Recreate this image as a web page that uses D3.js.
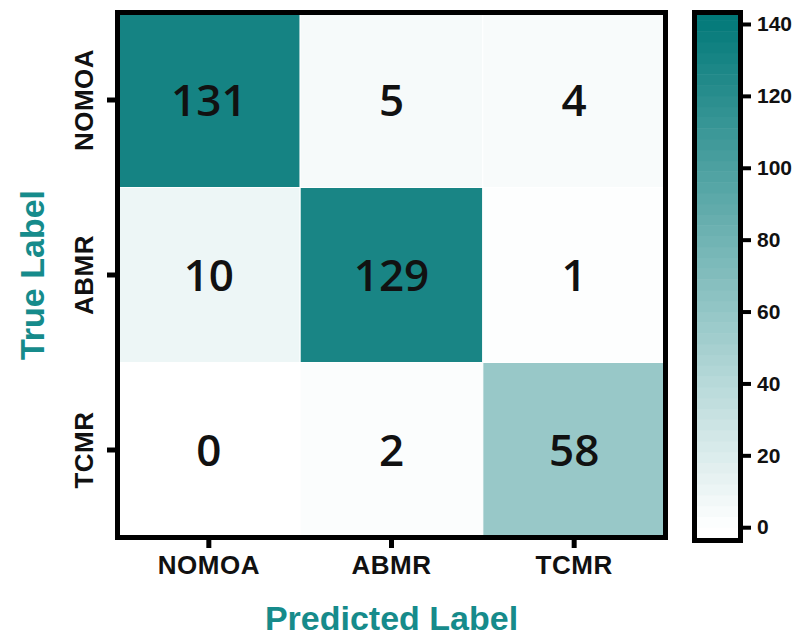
<!DOCTYPE html>
<html>
<head>
<meta charset="utf-8">
<script src="https://cdn.jsdelivr.net/npm/d3@7"></script>
<style>
  html, body { margin: 0; padding: 0; background: #fff; }
  svg { display: block; }
</style>
</head>
<body>
<svg id="chart" width="806" height="638"></svg>
<script>
// Confusion matrix: rows = true class, columns = predicted class
const classes = ["NOMOA", "ABMR", "TCMR"];
const rowNOMOA = [131, 5, 4];
const rowABMR = [10, 129, 1];
const rowTCMR = [0, 2, 58];
const colorbarTicks = [0, 20, 40, 60, 80, 100, 120, 140];

const matrix = [rowNOMOA, rowABMR, rowTCMR];
const cells = [];
matrix.forEach((row, i) => row.forEach((v, j) => cells.push({ t: classes[i], p: classes[j], v })));

const svg = d3.select("#chart");
const teal = "#168b8b";
const plot = { left: 117.5, right: 665.5, top: 12.5, bottom: 537.5 };

const x = d3.scaleBand().domain(classes).range([plot.left, plot.right]);
const y = d3.scaleBand().domain(classes).range([plot.top, plot.bottom]);

const color = d3.scaleLinear()
  .domain([0, 143])
  .range(["#ffffff", "rgb(0,120,120)"])
  .clamp(true);

// Heatmap cells
svg.append("g").selectAll("rect")
  .data(cells)
  .join("rect")
  .attr("x", d => x(d.p))
  .attr("y", d => y(d.t))
  .attr("width", x.bandwidth())
  .attr("height", y.bandwidth())
  .attr("fill", d => color(d.v))
  .attr("stroke", "#ffffff")
  .attr("stroke-width", 1);

// Cell counts
svg.append("g").selectAll("text")
  .data(cells)
  .join("text")
  .attr("x", d => x(d.p) + x.bandwidth() / 2)
  .attr("y", d => y(d.t) + y.bandwidth() / 2)
  .attr("dy", "0.36em")
  .attr("text-anchor", "middle")
  .attr("font-family", "'Open Sans', 'Noto Sans', sans-serif")
  .attr("font-weight", 600)
  .attr("font-size", 44)
  .attr("fill", "#111")
  .text(d => d.v);

// Frame
svg.append("rect")
  .attr("x", plot.left).attr("y", plot.top)
  .attr("width", plot.right - plot.left).attr("height", plot.bottom - plot.top)
  .attr("fill", "none").attr("stroke", "#000").attr("stroke-width", 5);

const tickFont = "'Liberation Sans', Arial, sans-serif";

// Bottom axis
const xAxis = svg.append("g")
  .attr("transform", `translate(0,${plot.bottom + 2.5})`)
  .call(d3.axisBottom(x).tickSize(8).tickSizeOuter(0).tickPadding(8));
xAxis.select(".domain").remove();
xAxis.selectAll(".tick line").attr("stroke", "#000").attr("stroke-width", 5);
xAxis.selectAll(".tick text")
  .attr("font-family", tickFont).attr("font-weight", 700)
  .attr("font-size", 26).attr("fill", "#111")
  .attr("letter-spacing", "0.5px");

// Left axis
const yAxis = svg.append("g")
  .attr("transform", `translate(${plot.left - 2.5},0)`)
  .call(d3.axisLeft(y).tickSize(8).tickSizeOuter(0));
yAxis.select(".domain").remove();
yAxis.selectAll(".tick line").attr("stroke", "#000").attr("stroke-width", 5);
yAxis.selectAll(".tick text")
  .attr("font-family", tickFont).attr("font-weight", 700)
  .attr("font-size", 26).attr("fill", "#111")
  .attr("letter-spacing", "0.5px")
  .attr("text-anchor", "middle")
  .attr("x", 0).attr("dy", 0)
  .attr("transform", "translate(-22,0) rotate(-90)");

// Axis titles
svg.append("text")
  .attr("x", (plot.left + plot.right) / 2).attr("y", 630)
  .attr("text-anchor", "middle")
  .attr("font-family", tickFont).attr("font-weight", 700)
  .attr("font-size", 34).attr("fill", teal)
  .text("Predicted Label");

svg.append("text")
  .attr("transform", `translate(44,${(plot.top + plot.bottom) / 2}) rotate(-90)`)
  .attr("text-anchor", "middle")
  .attr("font-family", tickFont).attr("font-weight", 700)
  .attr("font-size", 34).attr("fill", teal)
  .text("True Label");

// Colour bar
const cb = { left: 694.5, right: 740.5, top: 12.5, bottom: 540.5 };
const cbScale = d3.scaleLinear().domain([-3, 142.5]).range([cb.bottom - 2.5, cb.top + 2.5]);
const bands = d3.range(0, 48).map(k => ({ lo: k * 3, hi: (k + 1) * 3 }));
const cbg = svg.append("g");
cbg.append("rect")
  .attr("x", cb.left).attr("y", cbScale(0))
  .attr("width", cb.right - cb.left).attr("height", cbScale(-3) - cbScale(0))
  .attr("fill", "#ffffff");
cbg.selectAll("rect.band")
  .data(bands.filter(b => b.lo < 142.5))
  .join("rect")
  .attr("class", "band")
  .attr("x", cb.left)
  .attr("y", b => cbScale(Math.min(b.hi, 142.5)))
  .attr("width", cb.right - cb.left)
  .attr("height", b => cbScale(b.lo) - cbScale(Math.min(b.hi, 142.5)) + 0.5)
  .attr("fill", b => color((b.lo + b.hi) / 2));
cbg.append("rect")
  .attr("x", cb.left).attr("y", cb.top)
  .attr("width", cb.right - cb.left).attr("height", cb.bottom - cb.top)
  .attr("fill", "none").attr("stroke", "#000").attr("stroke-width", 5);

const cbAxis = svg.append("g")
  .attr("transform", `translate(${cb.right + 2.5},0)`)
  .call(d3.axisRight(cbScale).tickValues(colorbarTicks).tickSize(8).tickPadding(6));
cbAxis.select(".domain").remove();
cbAxis.selectAll(".tick line").attr("stroke", "#000").attr("stroke-width", 4);
cbAxis.selectAll(".tick text")
  .attr("font-family", tickFont).attr("font-weight", 700)
  .attr("font-size", 21).attr("fill", "#111");
</script>
</body>
</html>
